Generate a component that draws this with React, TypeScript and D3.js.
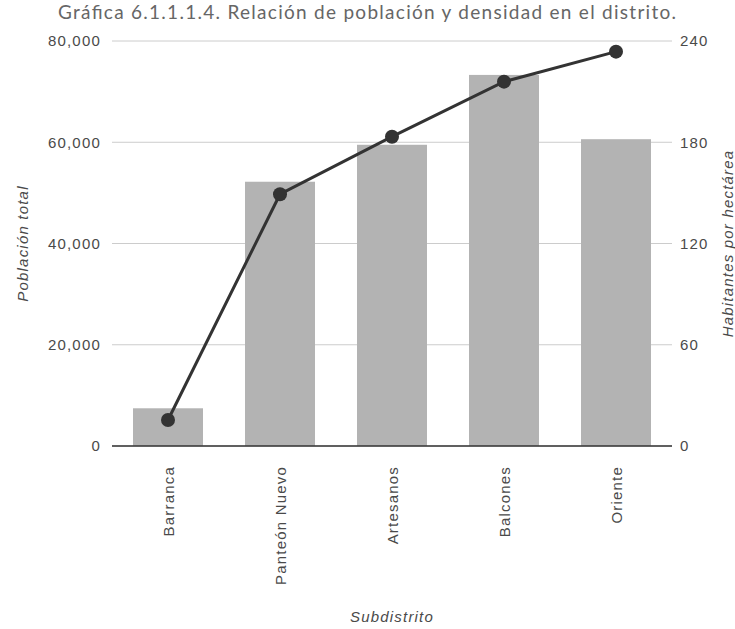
import React from "react";
import * as d3 from "d3";

const categories = ["Barranca", "Panteón Nuevo", "Artesanos", "Balcones", "Oriente"];
const population = [7450, 52200, 59500, 73300, 60600];
const density = [15.4, 149.2, 183.3, 215.9, 233.7];
const leftTicks = [0, 20000, 40000, 60000, 80000];
const rightTicks = [0, 60, 120, 180, 240];

const W = 735;
const H = 629;
const M = { left: 112, right: 672, top: 41, bottom: 446 };

export default function App() {
  const x = d3.scaleBand<string>().domain(categories).range([M.left, M.right]).paddingInner(0.375).paddingOuter(0.1875);
  const yL = d3.scaleLinear().domain([0, 80000]).range([M.bottom, M.top]);
  const yR = d3.scaleLinear().domain([0, 240]).range([M.bottom, M.top]);
  const fmt = d3.format(",");
  const line = d3
    .line<number>()
    .x((_, i) => (x(categories[i]) as number) + x.bandwidth() / 2)
    .y((d) => yR(d));
  const font = "'Liberation Sans', Arial, sans-serif";
  const fs = 15;
  const ls = 1.2;
  const tc = "#4a4a4a";
  return (
    <svg width={W} height={H} style={{ position: "absolute", left: 0, top: 0, background: "#fff" }}>
      <text x={367} y={19} textAnchor="middle" fontFamily="Lato, 'Open Sans', sans-serif" fontSize={19} fontWeight={400} fill="#666" textLength={618} lengthAdjust="spacing">
        Gráfica 6.1.1.1.4. Relación de población y densidad en el distrito.
      </text>
      {leftTicks.map((t) => (
        <line key={"g" + t} x1={M.left} x2={M.right} y1={yL(t)} y2={yL(t)} stroke="#cccccc" strokeWidth={1} />
      ))}
      {population.map((v, i) => (
        <rect key={"b" + i} x={x(categories[i])} y={yL(v)} width={x.bandwidth()} height={yL(0) - yL(v)} fill="#b3b3b3" />
      ))}
      <line x1={M.left} x2={M.right} y1={yL(0)} y2={yL(0)} stroke="#333" strokeWidth={1.5} />
      <path d={line(density) || ""} fill="none" stroke="#333" strokeWidth={3} />
      {density.map((v, i) => (
        <circle key={"c" + i} cx={(x(categories[i]) as number) + x.bandwidth() / 2} cy={yR(v)} r={7} fill="#333" />
      ))}
      {leftTicks.map((t) => (
        <text key={"l" + t} x={101} y={yL(t)} dy="0.35em" textAnchor="end" fontFamily={font} fontSize={fs} letterSpacing={ls} fill={tc}>
          {fmt(t)}
        </text>
      ))}
      {rightTicks.map((t) => (
        <text key={"r" + t} x={680} y={yR(t)} dy="0.35em" textAnchor="start" fontFamily={font} fontSize={fs} letterSpacing={ls} fill={tc}>
          {t}
        </text>
      ))}
      {categories.map((c) => {
        const cx = (x(c) as number) + x.bandwidth() / 2;
        return (
          <text key={"x" + c} transform={`translate(${cx + 6},466) rotate(-90)`} textAnchor="end" fontFamily={font} fontSize={fs} letterSpacing={ls} fill={tc}>
            {c}
          </text>
        );
      })}
      <text x={392} y={622} textAnchor="middle" fontFamily={font} fontSize={fs} letterSpacing={ls} fontStyle="italic" fill={tc}>
        Subdistrito
      </text>
      <text transform={`translate(28,${(M.top + M.bottom) / 2}) rotate(-90)`} textAnchor="middle" fontFamily={font} fontSize={fs} letterSpacing={ls} fontStyle="italic" fill={tc}>
        Población total
      </text>
      <text transform={`translate(733,${(M.top + M.bottom) / 2}) rotate(-90)`} textAnchor="middle" fontFamily={font} fontSize={fs} letterSpacing={ls} fontStyle="italic" fill={tc}>
        Habitantes por hectárea
      </text>
    </svg>
  );
}
